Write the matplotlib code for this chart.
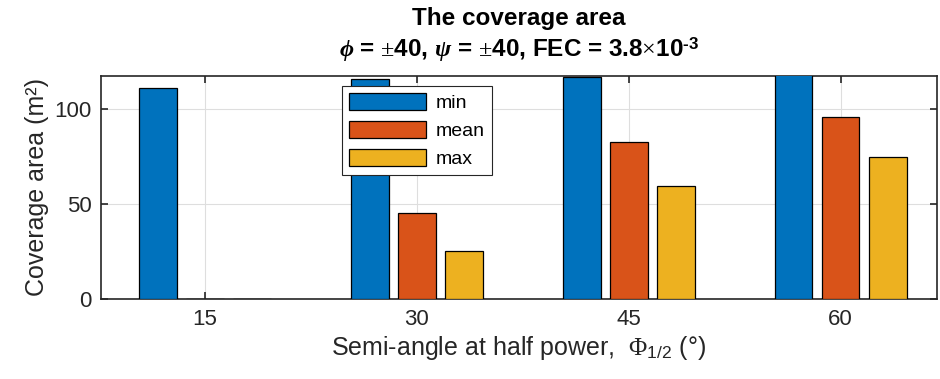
import numpy as np
import matplotlib.pyplot as plt

# semi-angle at half power (deg) and coverage area per case (m^2)
angles = [15, 30, 45, 60]
area_min = [111, 116, 117, 119]
area_mean = [0, 45.3, 82.5, 95.7]
area_max = [0, 25.3, 59.5, 74.8]
series_names = ["min", "mean", "max"]

colors = ["#0072BD", "#D95319", "#EDB120"]
axc = "#262626"

plt.rcParams["font.family"] = ["Liberation Sans", "DejaVu Sans"]
plt.rcParams["mathtext.fontset"] = "custom"
plt.rcParams["mathtext.rm"] = "Liberation Serif"
plt.rcParams["mathtext.it"] = "Liberation Serif:italic:bold"
plt.rcParams["mathtext.bf"] = "Liberation Sans:bold"
plt.rcParams["mathtext.sf"] = "Liberation Sans"

fig = plt.figure(figsize=(9.4, 3.79), dpi=100)
ax = fig.add_axes([0.1075, 0.211, 0.889, 0.589])

x = np.array(angles, dtype=float)
slot = 15 * (3 / 4.5) / 3
width = 0.8 * slot
for i, (vals, name) in enumerate(zip([area_min, area_mean, area_max], series_names)):
    ax.bar(x + (i - 1) * slot, vals, width=width, color=colors[i],
           edgecolor="black", linewidth=0.9, label=name, zorder=3)

ax.set_xlim(7.64, 66.8)
ax.set_ylim(0, 117.5)
ax.set_xticks(angles)
ax.set_yticks([0, 50, 100])
ax.grid(True, color="#dedede", linewidth=0.8, zorder=0)
ax.set_axisbelow(True)

ax.tick_params(direction="in", length=5, width=1.2, colors=axc,
               labelsize=16, top=True, right=True, pad=7)
for s in ax.spines.values():
    s.set_color(axc)
    s.set_linewidth(1.2)

ax.set_ylabel("Coverage area (m²)", fontsize=18, color=axc, labelpad=4)
ax.set_xlabel(r"Semi-angle at half power,  $\Phi_{\mathsf{1/2}}$ (°)",
              fontsize=18, color=axc, labelpad=3)

# two-line bold title centred over the axes
xc = 0.1075 + 0.889 / 2
fig.text(xc, 1 - 25 / 379, "The coverage area", ha="center", va="baseline",
         fontsize=17.5, fontweight="bold")
fig.text(xc, 1 - 57 / 379,
         r"$\phi$ = $\pm$40, $\psi$ = $\pm$40, FEC = 3.8$\times$10$^{\mathbf{‐3}}$",
         ha="center", va="baseline", fontsize=17.5, fontweight="bold")

leg = ax.legend(loc="upper left", bbox_to_anchor=(0.288, 0.954), borderaxespad=0,
                fontsize=14, handlelength=4.0, handleheight=1.0, handletextpad=0.5,
                labelspacing=0.45, borderpad=0.35, fancybox=False, framealpha=1,
                edgecolor=axc)
leg.get_frame().set_linewidth(0.8)

fig.savefig("out.png", dpi=100)
